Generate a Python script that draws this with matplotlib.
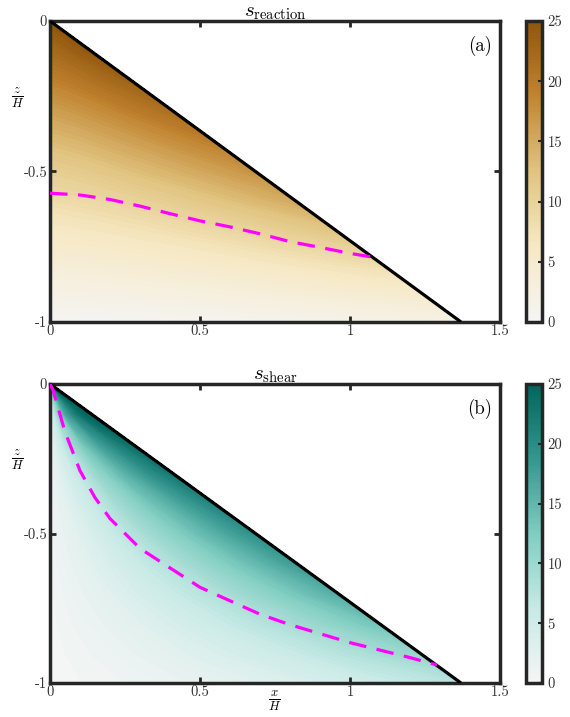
import numpy as np
import matplotlib
matplotlib.use("Agg")
import matplotlib.pyplot as plt
from matplotlib.colors import LinearSegmentedColormap, Normalize
from matplotlib.cm import ScalarMappable

plt.rcParams["mathtext.fontset"] = "cm"

# ---------------- data ----------------
slope_x_end = 1.37                      # x/H where the slope reaches z/H = -1
z_rows = [0.0, -0.1, -0.2, -0.3, -0.4, -0.5, -0.6, -0.7, -0.8, -0.9, -1.0]
xi_cols = [0.0, 0.2, 0.4, 0.6, 0.8, 1.0]   # fraction of the way from x=0 to the slope

s_reaction = [
    [25.0, 25.0, 25.0, 25.0, 25.0, 25.0],
    [22.0, 22.3, 22.8, 23.4, 24.0, 24.6],
    [19.0, 19.6, 20.4, 21.3, 22.2, 23.2],
    [16.0, 16.8, 17.8, 19.0, 20.2, 21.4],
    [13.2, 14.1, 15.3, 16.6, 18.0, 19.4],
    [10.6, 11.5, 12.8, 14.2, 15.7, 17.3],
    [8.2, 9.0, 10.2, 11.6, 13.2, 15.0],
    [6.0, 6.7, 7.7, 8.9, 10.3, 12.0],
    [3.9, 4.4, 5.2, 6.2, 7.4, 8.6],
    [2.0, 2.3, 2.8, 3.5, 4.3, 5.2],
    [0.5, 0.6, 0.8, 1.1, 1.5, 2.0],
]

s_shear = [
    [1.0, 10.0, 17.0, 21.0, 24.0, 25.5],
    [1.0, 10.0, 17.0, 21.0, 24.0, 25.5],
    [1.0, 7.5, 13.0, 17.5, 21.0, 24.0],
    [0.8, 5.5, 10.5, 15.0, 19.0, 22.5],
    [0.6, 4.5, 9.0, 13.0, 17.0, 21.0],
    [0.5, 3.8, 7.8, 11.5, 15.5, 19.5],
    [0.4, 3.2, 6.6, 10.0, 13.8, 18.0],
    [0.3, 2.6, 5.5, 8.5, 12.0, 16.0],
    [0.2, 2.0, 4.3, 7.0, 10.0, 13.5],
    [0.15, 1.4, 3.2, 5.2, 7.8, 10.5],
    [0.1, 0.9, 2.0, 3.5, 5.5, 7.5],
]

dash_a_x = [0.0, 0.1, 0.2, 0.3, 0.4, 0.5, 0.6, 0.7, 0.8, 0.9, 1.0, 1.078]
dash_a_z = [-0.572, -0.578, -0.593, -0.615, -0.64, -0.664, -0.684, -0.707,
            -0.733, -0.752, -0.772, -0.785]

dash_b_x = [0.0, 0.01, 0.05, 0.1, 0.15, 0.2, 0.3, 0.4, 0.5, 0.6, 0.7, 0.8,
            0.9, 1.0, 1.1, 1.2, 1.29]
dash_b_z = [0.0, -0.02, -0.16, -0.29, -0.38, -0.45, -0.55, -0.615, -0.68,
            -0.725, -0.77, -0.805, -0.835, -0.865, -0.89, -0.915, -0.94]

x_ticks = [0, 0.5, 1, 1.5]
x_ticklabels = ["0", "0.5", "1", "1.5"]
y_ticks = [-1, -0.5, 0]
y_ticklabels = ["-1", "-0.5", "0"]
cb_ticks = [0, 5, 10, 15, 20, 25]
cb_ticklabels = ["0", "5", "10", "15", "20", "25"]
s_min, s_max = 0, 25

# ---------------- colours ----------------
brbg = plt.get_cmap("BrBG")
cmap_brown = LinearSegmentedColormap.from_list(
    "brown", brbg(np.linspace(0.5, 0.11, 256)))
cmap_teal = LinearSegmentedColormap.from_list(
    "teal", brbg(np.linspace(0.5, 0.9, 256)))

TF = "cmr10"
spine_col = "#262626"

W, H = 570, 717
fig = plt.figure(figsize=(W / 100, H / 100), dpi=100)
ax_a = fig.add_axes([50 / W, 1 - 322 / H, 450 / W, 301 / H])
cax_a = fig.add_axes([526 / W, 1 - 322 / H, 16 / W, 301 / H])
ax_b = fig.add_axes([50 / W, 1 - 683 / H, 450 / W, 299 / H])
cax_b = fig.add_axes([526 / W, 1 - 683 / H, 16 / W, 299 / H])


def panel(ax, cax, S, cmap, dx, dz, title, tag, show_xlabel):
    zr = np.array(z_rows)
    xi = np.array(xi_cols)
    Z = zr[:, None] * np.ones_like(xi)[None, :]
    X = xi[None, :] * (slope_x_end * -zr)[:, None]
    norm = Normalize(s_min, s_max)
    cs = ax.contourf(X, Z, np.array(S), levels=np.linspace(s_min, s_max, 61),
                     cmap=cmap, norm=norm, extend="both")
    cs.set_edgecolor("face")
    ax.plot([0, slope_x_end], [0, -1], color="black", lw=2.3,
            solid_capstyle="butt", zorder=3)
    ax.plot(dx, dz, color="#ff00ff", lw=2.3, dashes=(5.5, 3.3), zorder=4)
    ax.set_xlim(0, 1.5)
    ax.set_ylim(-1, 0)
    ax.set_xticks(x_ticks)
    ax.set_xticklabels(x_ticklabels, fontfamily=TF, fontsize=10.5)
    ax.set_yticks(y_ticks)
    ax.set_yticklabels(y_ticklabels, fontfamily=TF, fontsize=10.5)
    ax.tick_params(direction="in", length=4, width=2, top=True, right=True,
                   color=spine_col, pad=2, labelcolor="#333333")
    for sp in ax.spines.values():
        sp.set_linewidth(2.5)
        sp.set_color(spine_col)
    ax.set_title(title, fontsize=15, pad=3)
    ax.text(0.982, 0.918, tag, transform=ax.transAxes, ha="right",
            va="center", fontfamily=TF, fontsize=13.5)
    ax.set_ylabel(r"$\frac{z}{H}$", rotation=0, fontsize=13,
                  ha="center", va="center")
    ax.yaxis.set_label_coords(-0.072, 0.745)
    if show_xlabel:
        ax.set_xlabel(r"$\frac{x}{H}$", fontsize=13, va="center")
        ax.xaxis.set_label_coords(0.5, -0.06)

    cb = fig.colorbar(ScalarMappable(norm=norm, cmap=cmap), cax=cax,
                      ticks=cb_ticks)
    cb.set_ticklabels(cb_ticklabels, fontfamily=TF, fontsize=10.5)
    cax.tick_params(direction="in", length=3, width=1.5, right=True,
                    left=False, color=spine_col, pad=4, labelcolor="#333333")
    cb.outline.set_linewidth(2.5)
    cb.outline.set_edgecolor(spine_col)


panel(ax_a, cax_a, s_reaction, cmap_brown, dash_a_x, dash_a_z,
      r"$s_{\mathrm{reaction}}$", "(a)", False)
panel(ax_b, cax_b, s_shear, cmap_teal, dash_b_x, dash_b_z,
      r"$s_{\mathrm{shear}}$", "(b)", True)

fig.savefig("out.png", dpi=100, facecolor="white")
